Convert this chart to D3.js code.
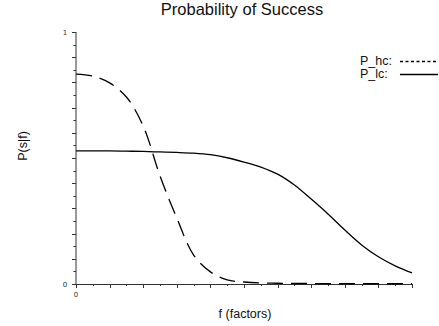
<!DOCTYPE html>
<html><head><meta charset="utf-8">
<script src="https://cdn.jsdelivr.net/npm/d3@7"></script>
<style>body{margin:0;background:#fff}svg{display:block}</style>
</head><body>
<script>
const xValues = [0,0.05,0.1,0.15,0.2,0.25,0.3,0.35,0.4,0.45,0.5,0.55,0.6,0.65,0.7,0.75,0.8,0.85,0.9,0.95,1];
const pHc = [0.833,0.825,0.798,0.742,0.627,0.429,0.262,0.115,0.048,0.016,0.008,0.004,0.003,0.002,0.002,0.001,0.001,0.001,0.001,0.001,0.001];
const pLc = [0.528,0.528,0.528,0.527,0.526,0.524,0.522,0.519,0.513,0.501,0.484,0.464,0.436,0.393,0.337,0.278,0.214,0.155,0.108,0.072,0.044];
const yTickLabels = ["0","1"];
const xTickLabels = ["0"];
const seriesNames = ["P_hc:","P_lc:"];

const W=439,H=326;
const svg=d3.select("body").append("svg").attr("width",W).attr("height",H);
const x=d3.scaleLinear().domain([0,1]).range([76,412]);
const y=d3.scaleLinear().domain([0,1]).range([284,32]);
const font="Liberation Sans, Arial, sans-serif";

svg.append("text").attr("x",242).attr("y",15).attr("text-anchor","middle")
  .attr("font-family",font).attr("font-size",16.5).attr("fill","#111").text("Probability of Success");

const ticks=d3.range(0,21).map(i=>i/20);
// y axis
const gy=svg.append("g");
gy.append("line").attr("x1",x(0)).attr("x2",x(0)).attr("y1",y(0)).attr("y2",y(1)).attr("stroke","#333").attr("stroke-width",1);
gy.selectAll(".t").data(ticks).join("line")
  .attr("x1",(d,i)=>x(0)-(i%2===0?4:2.5)).attr("x2",x(0))
  .attr("y1",d=>Math.round(y(d))+0.5).attr("y2",d=>Math.round(y(d))+0.5)
  .attr("stroke","#333").attr("stroke-width",1);
gy.selectAll(".l").data([0,1]).join("text")
  .attr("x",x(0)-11).attr("y",d=>y(d)+2.5).attr("text-anchor","middle")
  .attr("font-family","DejaVu Sans, sans-serif").attr("font-size",7).attr("fill","#333")
  .text((d,i)=>yTickLabels[i]);
// x axis
const gx=svg.append("g");
gx.append("line").attr("x1",x(0)).attr("x2",x(1)).attr("y1",y(0)+0.5).attr("y2",y(0)+0.5).attr("stroke","#333").attr("stroke-width",1);
gx.selectAll(".t").data(ticks).join("line")
  .attr("x1",d=>Math.round(x(d))+0.5).attr("x2",d=>Math.round(x(d))+0.5)
  .attr("y1",y(0)).attr("y2",(d,i)=>y(0)+(i%2===0?4:2))
  .attr("stroke","#333").attr("stroke-width",1);
gx.selectAll(".l").data([0]).join("text")
  .attr("x",d=>x(d)).attr("y",y(0)+13).attr("text-anchor","middle")
  .attr("font-family","DejaVu Sans, sans-serif").attr("font-size",7).attr("fill","#333")
  .text((d,i)=>xTickLabels[i]);

svg.append("text").attr("transform","translate(27,146) rotate(-90)").attr("text-anchor","middle")
  .attr("font-family",font).attr("font-size",12.5).attr("fill","#111").text("P(s|f)");
svg.append("text").attr("x",245).attr("y",318).attr("text-anchor","middle")
  .attr("font-family",font).attr("font-size",12.5).attr("fill","#111").text("f (factors)");

const line=d3.line().x((d,i)=>x(xValues[i])).y(d=>y(d)).curve(d3.curveCatmullRom);
svg.append("path").attr("d",line(pHc)).attr("fill","none").attr("stroke","#000").attr("stroke-width",1.3).attr("stroke-dasharray","16,8");
svg.append("path").attr("d",line(pLc)).attr("fill","none").attr("stroke","#000").attr("stroke-width",1.3);

// legend
const leg=svg.append("g");
const ly=[61,74];
leg.selectAll("text").data(seriesNames).join("text")
  .attr("x",360).attr("y",(d,i)=>ly[i]+4).attr("font-family",font).attr("font-size",12.5).attr("fill","#111").text(d=>d);
leg.selectAll("line").data(seriesNames).join("line")
  .attr("x1",400).attr("x2",438).attr("y1",(d,i)=>ly[i]+0.5).attr("y2",(d,i)=>ly[i]+0.5)
  .attr("stroke","#000").attr("stroke-width",1.3).attr("stroke-dasharray",(d,i)=>i===0?"3,2.5":null);
</script>
</body></html>
